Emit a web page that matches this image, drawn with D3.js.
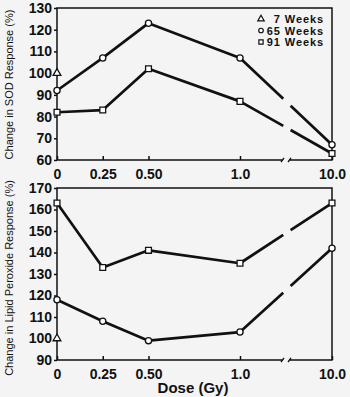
<!DOCTYPE html>
<html>
<head>
<meta charset="utf-8">
<script src="https://cdn.jsdelivr.net/npm/d3@7"></script>
<style>
  html, body { margin: 0; padding: 0; background: #f4f4f4; }
  svg { display: block; }
  text { font-family: "Liberation Sans", Arial, Helvetica, sans-serif; fill: #111; }
</style>
</head>
<body>
<div id="chart"></div>
<script>
// Dose groups (Gy) and their axis labels
const doses = [0, 0.25, 0.5, 1.0, 10.0];
const doseLabels = ["0", "0.25", "0.50", "1.0", "10.0"];

// SOD response (%) by age group
const sod65 = [92, 107, 123, 107, 67];
const sod91 = [82, 83, 102, 87, 63];
const sod7 = [100];          // only the unirradiated control

// Lipid peroxide response (%) by age group
const lipid65 = [118, 108, 99, 103, 142];
const lipid91 = [163, 133, 141, 135, 163];
const lipid7 = [100];

const sodTicks = [60, 70, 80, 90, 100, 110, 120, 130];
const lipidTicks = [90, 100, 110, 120, 130, 140, 150, 160, 170];

const legendItems = [
  { label: "7 Weeks", shape: "triangle" },
  { label: "65 Weeks", shape: "circle" },
  { label: "91 Weeks", shape: "square" }
];

const W = 350, H = 397;
const svg = d3.select("#chart").append("svg").attr("width", W).attr("height", H);
svg.append("rect").attr("width", W).attr("height", H).attr("fill", "#f4f4f4");

const plotLeft = 57, plotRight = 332;
// broken dose axis: evenly spaced low doses, then compressed 1 → 10 Gy
const x = d3.scaleLinear().domain([0, 0.5, 1, 10]).range([plotLeft, 148.5, 240, plotRight]);
const breakX = [282, 290];   // gap in the axis between 1.0 and 10.0
const gapT = [0.47, 0.55];   // gap along the 1.0 → 10.0 segment

function symbolPath(shape, size) {
  const type = shape === "triangle" ? d3.symbolTriangle
             : shape === "square" ? d3.symbolSquare : d3.symbolCircle;
  return d3.symbol().type(type).size(size)();
}

function panel(cfg) {
  const y = d3.scaleLinear().domain(cfg.domain).range([cfg.bottom, cfg.top]);
  const g = svg.append("g");

  // frame with a break in the dose axis
  const frame = g.append("g").attr("stroke", "#111").attr("stroke-width", 1.5).attr("fill", "none");
  frame.append("path").attr("d",
    `M${breakX[0]},${cfg.bottom}H${plotLeft}V${cfg.top}H${plotRight}V${cfg.bottom}H${breakX[1]}`);
  frame.append("path").attr("stroke-width", 1.3)
    .attr("d", `M${breakX[0] - 1},${cfg.bottom + 2}L${breakX[0] + 2},${cfg.bottom - 2}` +
               `M${breakX[1] - 2},${cfg.bottom + 2}L${breakX[1] + 1},${cfg.bottom - 2}`);

  // y axis
  const ya = g.append("g").attr("transform", `translate(${plotLeft},0)`)
    .call(d3.axisLeft(y).tickValues(cfg.ticks).tickSize(3).tickPadding(2).tickFormat(d3.format("d")));
  ya.select(".domain").remove();
  ya.selectAll("line").attr("stroke", "#111").attr("stroke-width", 1.5);
  ya.selectAll("text").attr("font-size", 14).attr("font-weight", "bold").attr("fill", "#111");

  // x axis (ticks point inward)
  const xa = g.append("g").attr("transform", `translate(0,${cfg.bottom})`)
    .call(d3.axisBottom(x).tickValues(doses).tickSizeInner(-4).tickSizeOuter(0)
      .tickPadding(9).tickFormat((d, i) => doseLabels[i]));
  xa.select(".domain").remove();
  xa.selectAll("line").attr("stroke", "#111").attr("stroke-width", 1.5);
  xa.selectAll("text").attr("font-size", 14).attr("font-weight", "bold").attr("fill", "#111");

  // y axis title
  g.append("text")
    .attr("transform", `translate(13,${cfg.labelY}) rotate(-90)`)
    .attr("text-anchor", "middle").attr("font-size", 11)
    .text(cfg.label);

  const line = d3.line();
  cfg.series.forEach(s => {
    const pts = s.values.map((v, i) => [x(doses[i]), y(v)]);
    if (pts.length > 1) {
      const n = pts.length;
      const p3 = pts[n - 2], p4 = pts[n - 1];
      const lerp = t => [p3[0] + (p4[0] - p3[0]) * t, p3[1] + (p4[1] - p3[1]) * t];
      const first = pts.slice(0, n - 1).concat([lerp(gapT[0])]);
      const second = [lerp(gapT[1]), p4];
      [first, second].forEach(seg => {
        g.append("path").attr("d", line(seg)).attr("fill", "none")
          .attr("stroke", "#111").attr("stroke-width", 2.7)
          .attr("stroke-linejoin", "round");
      });
    }
    g.selectAll(null).data(pts).enter().append("path")
      .attr("transform", d => `translate(${d[0]},${d[1]})`)
      .attr("d", symbolPath(s.shape, s.shape === "circle" ? 30 : s.shape === "square" ? 34 : 26))
      .attr("fill", "#fff").attr("stroke", "#111").attr("stroke-width", 1.3);
  });
  return g;
}

const sodPanel = panel({
  domain: [60, 130], top: 8, bottom: 160, ticks: sodTicks, labelY: 84.5,
  label: "Change in SOD Response (%)",
  series: [
    { values: sod65, shape: "circle" },
    { values: sod91, shape: "square" },
    { values: sod7, shape: "triangle" }
  ]
});

panel({
  domain: [90, 170], top: 188, bottom: 360, ticks: lipidTicks, labelY: 278,
  label: "Change in Lipid Peroxide Response (%)",
  series: [
    { values: lipid65, shape: "circle" },
    { values: lipid91, shape: "square" },
    { values: lipid7, shape: "triangle" }
  ]
});

// x axis title
svg.append("text").attr("x", 193).attr("y", 393)
  .attr("text-anchor", "middle").attr("font-size", 15).attr("font-weight", "bold")
  .text("Dose (Gy)");

// legend
const legend = sodPanel.append("g");
legendItems.forEach((d, i) => {
  const cy = 19 + i * 11.5;
  legend.append("path").attr("transform", `translate(261,${cy})`)
    .attr("d", symbolPath(d.shape, d.shape === "circle" ? 16 : 18))
    .attr("fill", "#fff").attr("stroke", "#111").attr("stroke-width", 1.2);
  legend.append("text").attr("x", 324).attr("y", cy + 4)
    .attr("text-anchor", "end").attr("font-size", 11).attr("font-weight", "bold")
    .attr("letter-spacing", 0.9)
    .text(d.label);
});
</script>
</body>
</html>
